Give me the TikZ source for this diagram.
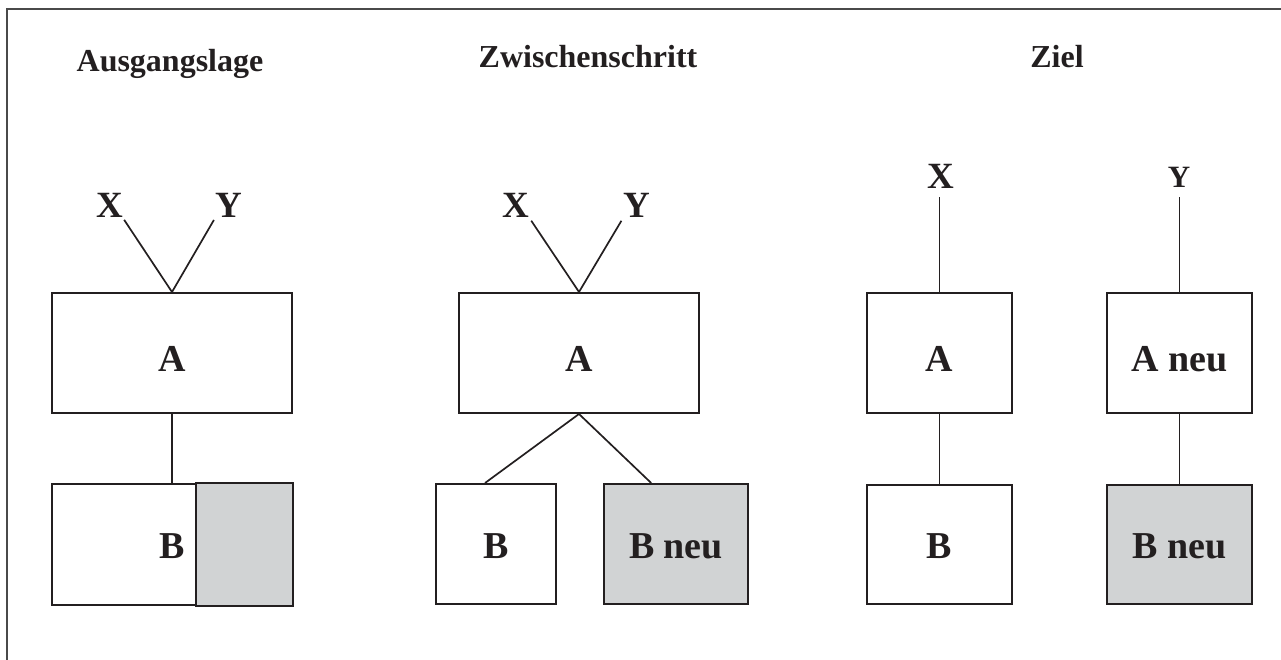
\documentclass[tikz,border=0pt]{standalone}
\usepackage{fontspec}
\setmainfont{Liberation Serif}
\usetikzlibrary{calc}
\definecolor{ink}{HTML}{231F20}
\definecolor{shade}{HTML}{D1D3D4}
\definecolor{framegray}{HTML}{4A4A4A}
\begin{document}
\begin{tikzpicture}[x=1pt,y=-1pt,
  abox/.style={draw=ink, line width=2pt, inner sep=0pt, text=ink,
    font=\fontsize{38}{40}\selectfont\bfseries, text height=36pt, text depth=0pt},
  bbox/.style={draw=ink, line width=2pt, inner sep=0pt, text=ink,
    font=\fontsize{38}{40}\selectfont\bfseries, text height=28pt, text depth=0pt},
  newbox/.style={bbox, fill=shade},
  lbl/.style={inner sep=0pt, anchor=base, text=ink, font=\fontsize{37}{40}\selectfont\bfseries},
  title/.style={inner sep=0pt, anchor=base, text=ink, font=\fontsize{32}{36}\selectfont\bfseries},
  conn/.style={draw=ink, line width=1.7pt}
]
\useasboundingbox (0,0) rectangle (1281,660);
% frame (only top and left edges visible)
\coordinate (fbl) at (7,662);
\coordinate (ftl) at (7,9);
\coordinate (ftr) at (1283,9);
\draw[framegray, line width=1.8pt] (fbl) -- (ftl) -- (ftr);

% titles
\node[title] (t1) at (170,72) {Ausgangslage};
\node[title] (t2) at (588,68) {Zwischenschritt};
\node[title] (t3) at (1057,68) {Ziel};

% panel 1
\node[abox, minimum width=240pt, minimum height=120pt] (a1) at (172,353) {A};
\node[bbox, minimum width=240pt, minimum height=121pt] (b1) at (172,544.5) {};
\draw[draw=ink, line width=2pt, fill=shade] ($(b1.north west)!0.6!(b1.north east)$) rectangle (b1.south east);
\node[bbox, draw=none, anchor=center] (b1t) at (b1.center) {B};
\node[lbl] (x1) at (109.5,218) {X};
\node[lbl] (y1) at (228.5,218) {Y};
\draw[conn, shorten <=2pt] (x1.south east) -- (a1.north);
\draw[conn, shorten <=2pt] (y1.south west) -- (a1.north);
\draw[conn] (a1.south) -- (b1.north);

% panel 2
\node[abox, minimum width=240pt, minimum height=120pt] (a2) at (579,353) {A};
\node[lbl] (x2) at (516,218) {X};
\node[lbl] (y2) at (636.5,218) {Y};
\draw[conn, shorten <=3pt] (x2.south east) -- (a2.north);
\draw[conn, shorten <=3pt] (y2.south west) -- (a2.north);
\node[bbox, minimum width=120pt, minimum height=120pt] (b2) at (496,544) {B};
\node[newbox, minimum width=144pt, minimum height=120pt] (bn2) at (676,544) {B neu};
\draw[conn] (a2.south) -- ($(b2.north west)!0.41!(b2.north east)$);
\draw[conn] (a2.south) -- ($(bn2.north west)!0.33!(bn2.north east)$);

% panel 3
\node[abox, minimum width=145pt, minimum height=120pt] (a3) at (939.5,353) {A};
\node[bbox, minimum width=145pt, minimum height=119pt] (b3) at (939.5,544.5) {B};
\node[lbl] (x3) at (941,189) {X};
\draw[conn, shorten <=8pt] (a3.north |- x3.south) -- (a3.north);
\draw[conn] (a3.south) -- (b3.north);

\node[abox, minimum width=145pt, minimum height=120pt] (an3) at (1179.5,353) {A neu};
\node[newbox, minimum width=145pt, minimum height=119pt] (bn3) at (1179.5,544.5) {B neu};
\node[lbl, font=\fontsize{31}{34}\selectfont\bfseries] (y3) at (1179,188) {Y};
\draw[conn, shorten <=9pt] (an3.north |- y3.south) -- (an3.north);
\draw[conn] (an3.south) -- (bn3.north);
\end{tikzpicture}
\end{document}
